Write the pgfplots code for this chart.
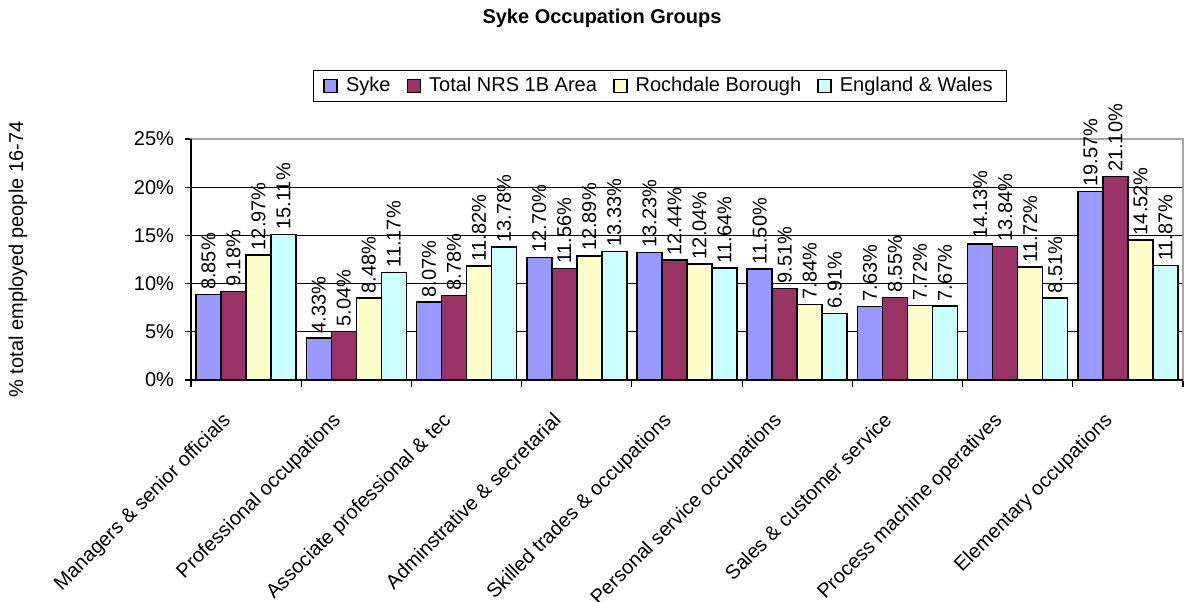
\documentclass[border=0pt]{standalone}
\usepackage{fontspec}
\setmainfont{Liberation Sans}
\usepackage{pgfplots}
\pgfplotsset{compat=1.18}
\definecolor{cSyke}{HTML}{9999FF}
\definecolor{cNRS}{HTML}{993366}
\definecolor{cRoch}{HTML}{FFFFCC}
\definecolor{cEW}{HTML}{CCFFFF}
\begin{document}
\begin{tikzpicture}
\path[use as bounding box] (-95.5pt,-110.5pt) rectangle (497.5pt,190pt);
\begin{axis}[
  at={(0pt,0pt)}, anchor=south west,
  scale only axis, width=496pt, height=120.5pt,
  /pgf/number format/assume math mode=true,
  font=\fontsize{10}{12}\selectfont,
  xmin=-0.5, xmax=8.5, ymin=0, ymax=25,
  ybar=0pt, bar width=12.5pt,
  clip=false,
  axis line style={draw=gray!70, line width=0.8pt},
  ytick={0,5,...,25},
  yticklabel={\pgfmathprintnumber{\tick}\%},
  yticklabel style={xshift=-2pt},
  ymajorgrids, grid style={black, line width=0.5pt},
  xtick={0,...,8},
  minor xtick={-0.5,0.5,...,8.5},
  major x tick style={draw=none},
  tick style={black, line width=0.6pt},
  tick align=outside, tick pos=left,
  major tick length=3pt, minor tick length=3.5pt,
  xticklabels={Managers \& senior officials, Professional occupations, Associate professional \& tec, Adminstrative \& secretarial, Skilled trades \& occupations, Personal service occupations, Sales \& customer service, Process machine operatives, Elementary occupations},
  xticklabel style={xshift=-12.5pt, yshift=-12.5pt, rotate=45, anchor=north east, inner sep=0pt},
  every axis y label/.style={at={(axis description cs:-0.1744,0.5)}, rotate=90, anchor=center},
  ylabel={\% total employed people 16-74},
  every axis title/.style={at={(axis description cs:0.4143,1.502)}, anchor=center, font=\bfseries\fontsize{10}{12}\selectfont},
  title={Syke Occupation Groups},
  legend style={at={(axis description cs:0.4728,1.2199)}, anchor=center, legend columns=-1, draw=black, line width=0.6pt, fill=white, inner xsep=5pt, inner ysep=1.5pt,
    /tikz/every even column/.append style={column sep=6pt}},
  legend image code/.code={\draw[#1, draw=black, line width=0.8pt] (0pt,-3.25pt) rectangle (6.5pt,3.25pt); \path (8.5pt,0pt);},
  point meta=y,
  nodes near coords={\pgfmathprintnumber[fixed,fixed zerofill,precision=2]{\pgfplotspointmeta}\%},
  every node near coord/.append style={rotate=90, anchor=west, inner sep=2pt, font=\fontsize{10}{12}\selectfont},
]
\addplot[fill=cSyke, draw=black, line width=0.8pt] coordinates {(0,8.85) (1,4.33) (2,8.07) (3,12.70) (4,13.23) (5,11.50) (6,7.63) (7,14.13) (8,19.57)};
\addplot[fill=cNRS, draw=black, line width=0.8pt] coordinates {(0,9.18) (1,5.04) (2,8.78) (3,11.56) (4,12.44) (5,9.51) (6,8.55) (7,13.84) (8,21.10)};
\addplot[fill=cRoch, draw=black, line width=0.8pt] coordinates {(0,12.97) (1,8.48) (2,11.82) (3,12.89) (4,12.04) (5,7.84) (6,7.72) (7,11.72) (8,14.52)};
\addplot[fill=cEW, draw=black, line width=0.8pt] coordinates {(0,15.11) (1,11.17) (2,13.78) (3,13.33) (4,11.64) (5,6.91) (6,7.67) (7,8.51) (8,11.87)};
\legend{Syke, Total NRS 1B Area, Rochdale Borough, England \& Wales}
\draw[black, line width=0.8pt] (rel axis cs:0,1) -- (rel axis cs:0,0) -- (rel axis cs:1,0);
\end{axis}
\end{tikzpicture}
\end{document}
